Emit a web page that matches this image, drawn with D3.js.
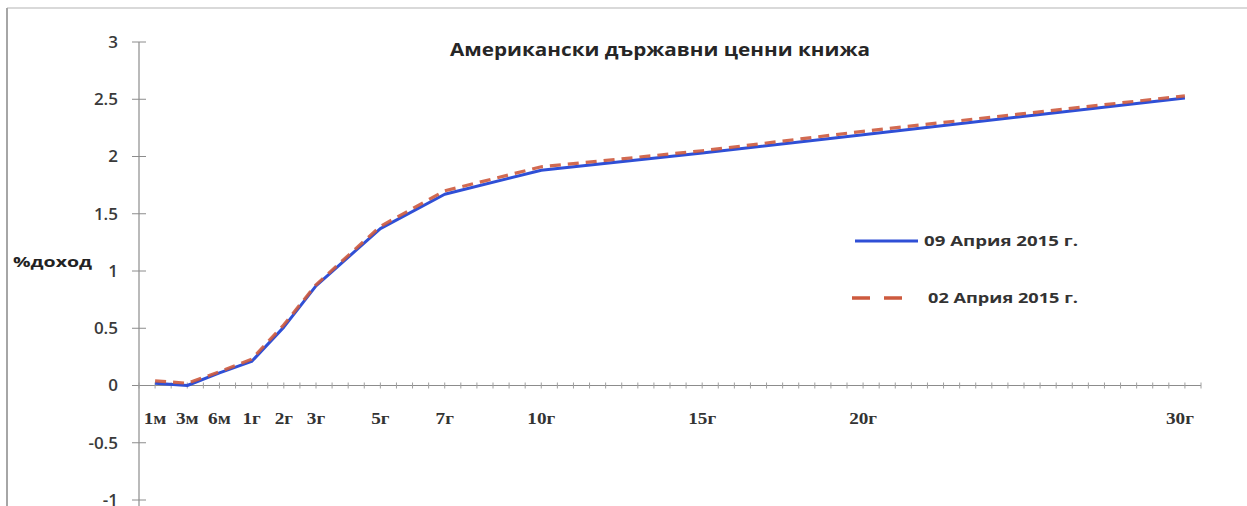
<!DOCTYPE html>
<html>
<head>
<meta charset="utf-8">
<script src="https://cdn.jsdelivr.net/npm/d3@7"></script>
<style>
  body { margin: 0; background: #fff; }
  svg { display: block; }
</style>
</head>
<body>
<div id="chartDiv" style="width:1247px;height:506px"></div>
<script>
// maturities (category labels) and their slot on the category axis
var maturities = ["1м", "3м", "6м", "1г", "2г", "3г", "5г", "7г", "10г", "15г", "20г", "30г"];
var slots = [0, 1, 2, 3, 4, 5, 7, 9, 12, 17, 22, 32];

// yields, %
var yieldsApr09 = [0.02, 0.00, 0.11, 0.21, 0.51, 0.87, 1.37, 1.67, 1.88, 2.03, 2.19, 2.51];
var yieldsApr02 = [0.04, 0.02, 0.12, 0.23, 0.53, 0.88, 1.39, 1.70, 1.91, 2.05, 2.22, 2.53];

var seriesNames = ["09 Априя 2015 г.", "02 Априя 2015 г."];
var yTicks = [-1, -0.5, 0, 0.5, 1, 1.5, 2, 2.5, 3];

function makeChart() {
  var width = 1247, height = 506;

  var svg = d3.select("#chartDiv").append("svg")
    .attr("width", width)
    .attr("height", height);

  // chart frame (only left and top edges show)
  svg.append("line").attr("x1", 7).attr("x2", width).attr("y1", 8).attr("y2", 8)
    .attr("stroke", "#d9d9d9").attr("stroke-width", 2);
  svg.append("line").attr("x1", 7).attr("x2", 7).attr("y1", 8).attr("y2", height)
    .attr("stroke", "#a6a6a6").attr("stroke-width", 2);

  var x = d3.scaleLinear().domain([-0.5, 32.5]).range([139, 1201]);
  var y = d3.scaleLinear().domain([-1, 3]).range([500, 42]);

  // y axis with crossing ticks
  var yAxis = svg.append("g").attr("transform", "translate(" + x(-0.5) + ",0)");
  yAxis.append("line").attr("y1", y(3)).attr("y2", height)
    .attr("stroke", "#8c8c8c").attr("stroke-width", 1.2);
  yAxis.selectAll("line.tick").data(yTicks).enter().append("line")
    .attr("class", "tick")
    .attr("x1", -7).attr("x2", 7)
    .attr("y1", function(d) { return y(d); })
    .attr("y2", function(d) { return y(d); })
    .attr("stroke", "#8c8c8c");
  yAxis.selectAll("text").data(yTicks).enter().append("text")
    .attr("x", -21)
    .attr("y", function(d) { return y(d); })
    .attr("dy", "0.35em")
    .attr("text-anchor", "end")
    .attr("font-family", "Open Sans, sans-serif")
    .attr("font-size", 17)
    .attr("font-weight", 600)
    .attr("fill", "#3a3a3a")
    .text(function(d) { return d; });

  // y axis title
  svg.append("text")
    .attr("x", 13).attr("y", 262)
    .attr("dy", "0.35em")
    .attr("font-family", "Open Sans, sans-serif")
    .attr("font-size", 15)
    .attr("font-weight", 700)
    .attr("fill", "#222")
    .attr("textLength", 79)
    .attr("lengthAdjust", "spacingAndGlyphs")
    .text("%доход");

  // x axis at 0, minor ticks every half slot
  var xAxis = svg.append("g").attr("transform", "translate(0," + y(0) + ")");
  xAxis.append("line").attr("x1", x(-0.5)).attr("x2", x(32.5))
    .attr("stroke", "#8c8c8c").attr("stroke-width", 1.2);
  xAxis.selectAll("line.tick").data(d3.range(0, 33.5, 0.5)).enter().append("line")
    .attr("class", "tick")
    .attr("x1", function(d) { return x(d - 0.5); })
    .attr("x2", function(d) { return x(d - 0.5); })
    .attr("y1", -3).attr("y2", 3)
    .attr("stroke", "#a0a0a0");
  xAxis.selectAll("text").data(maturities).enter().append("text")
    .attr("x", function(d, i) { return x(slots[i]) - (i == 11 ? 5 : 0); })
    .attr("y", 39)
    .attr("text-anchor", "middle")
    .attr("font-family", "Liberation Serif, serif")
    .attr("font-size", 16)
    .attr("font-weight", 700)
    .attr("fill", "#333")
    .attr("transform", function(d, i) {
      var cx = x(slots[i]) - (i == 11 ? 5 : 0);
      return "translate(" + cx + ",0) scale(1.2,1) translate(" + (-cx) + ",0)";
    })
    .text(function(d) { return d; });

  // title
  svg.append("text")
    .attr("x", 660).attr("y", 56)
    .attr("text-anchor", "middle")
    .attr("font-family", "Open Sans, sans-serif")
    .attr("font-size", 18)
    .attr("font-weight", 700)
    .attr("fill", "#262626")
    .attr("textLength", 420)
    .attr("lengthAdjust", "spacingAndGlyphs")
    .text("Американски държавни ценни книжа");

  var line = d3.line()
    .x(function(d) { return x(d[0]); })
    .y(function(d) { return y(d[1]); });

  var blueData = slots.map(function(s, i) { return [s, yieldsApr09[i]]; });
  var redData = slots.map(function(s, i) { return [s, yieldsApr02[i]]; });

  svg.append("path").datum(blueData)
    .attr("d", line)
    .attr("fill", "none")
    .attr("stroke", "#2f4fd6")
    .attr("stroke-width", 3)
    .attr("stroke-linejoin", "round");

  svg.append("path").datum(redData)
    .attr("d", line)
    .attr("fill", "none")
    .attr("stroke", "#cd5a3e")
    .attr("stroke-width", 3.2)
    .attr("stroke-dasharray", "11,7")
    .attr("stroke-opacity", 0.9);

  // legend
  var legend = svg.append("g");
  legend.append("line").attr("x1", 855).attr("x2", 918).attr("y1", 241).attr("y2", 241)
    .attr("stroke", "#2f4fd6").attr("stroke-width", 3);
  legend.append("line").attr("x1", 852).attr("x2", 903).attr("y1", 298).attr("y2", 298)
    .attr("stroke", "#cd5a3e").attr("stroke-width", 3.5)
    .attr("stroke-dasharray", "18,14");
  legend.selectAll("text").data(seriesNames).enter().append("text")
    .attr("x", function(d, i) { return i == 0 ? 924 : 928; })
    .attr("y", function(d, i) { return i == 0 ? 241 : 298; })
    .attr("dy", "0.35em")
    .attr("font-family", "Open Sans, sans-serif")
    .attr("font-size", 15)
    .attr("font-weight", 700)
    .attr("fill", "#333")
    .attr("textLength", function(d, i) { return i == 0 ? 154 : 150; })
    .attr("lengthAdjust", "spacingAndGlyphs")
    .text(function(d) { return d; });
}

makeChart();
</script>
</body>
</html>
